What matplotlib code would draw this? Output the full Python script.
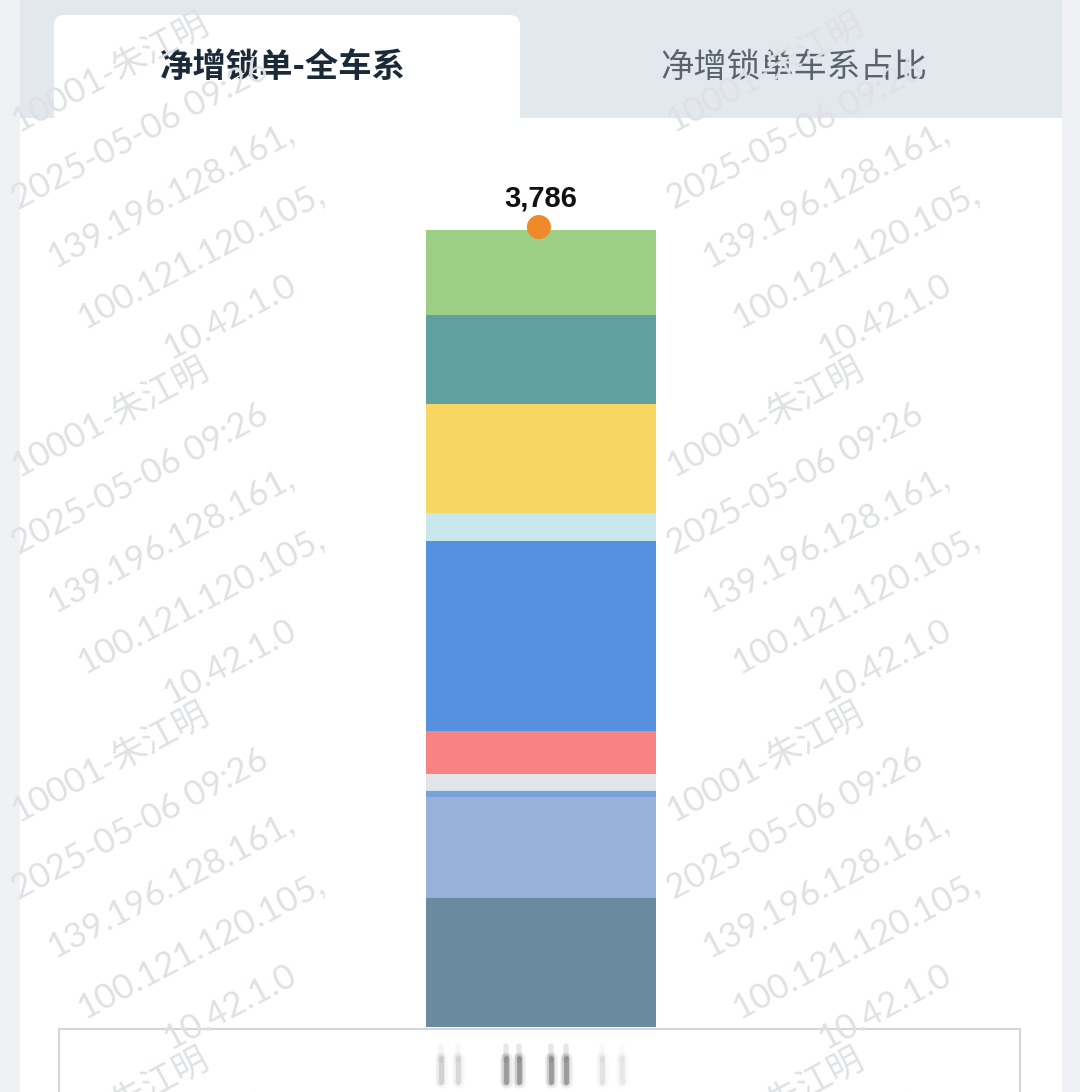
import numpy as np
import matplotlib
matplotlib.use("Agg")
import matplotlib.pyplot as plt
from matplotlib.patches import Rectangle, FancyBboxPatch

# stacked segments, bottom -> top (net locked orders per car series)
seg_values = [613, 480, 28, 10, 71, 204, 903, 133, 518, 423, 403]
seg_colors = ['#6a8aa0', '#97b1da', '#7b9fd8', '#cfe8ef', '#e2e6ea', '#f78383',
              '#5690e0', '#c9e8ee', '#f7d662', '#5fa19f', '#9ccf84']
total_label = '3,786'
tab_labels = ['净增锁单-全车系', '净增锁单车系占比']
wm_lines = ['10001-朱江明', '2025-05-06 09:26', '139.196.128.161,',
            '100.121.120.105,', '10.42.1.0']

W, H = 1080, 1092
fig = plt.figure(figsize=(W / 100, H / 100), dpi=100)
fig.patch.set_facecolor('#eff1f4')

# background / page chrome in pixel coords
bg = fig.add_axes([0, 0, 1, 1])
bg.set_xlim(0, W)
bg.set_ylim(H, 0)
bg.axis('off')
bg.add_patch(Rectangle((20, 0), 1042, 118, facecolor='#e3e7ee', edgecolor='none', zorder=0))
bg.add_patch(Rectangle((20, 118), 1042, H - 118, facecolor='white', edgecolor='none', zorder=0))
bg.add_patch(FancyBboxPatch((54, 15), 466, 120, boxstyle='round,pad=0,rounding_size=10',
                            facecolor='white', edgecolor='none', zorder=0.5))
bg.text(283, 67, tab_labels[0], ha='center', va='center', fontsize=24, fontweight='bold',
        color='#1b2a38', family=['Noto Sans CJK SC', 'DejaVu Sans'], zorder=1)
bg.text(794, 67, tab_labels[1], ha='center', va='center', fontsize=24, fontweight='medium',
        color='#59636e', family=['Noto Sans CJK SC', 'DejaVu Sans'], zorder=1)

# bottom axis box
bg.plot([59, 1020], [1029, 1029], color='#d4d7da', lw=1.5, zorder=1)
bg.plot([59, 59], [1029, H], color='#d4d7da', lw=1.5, zorder=1)
bg.plot([1020, 1020], [1029, H], color='#d4d7da', lw=1.5, zorder=1)
# blurred category label (soft strokes)
for x, a in zip([441, 458, 506, 519, 551, 566, 602, 622], [0.22, 0.18, 0.55, 0.55, 0.55, 0.55, 0.14, 0.1]):
    for lw, f in [(9, 0.15), (6, 0.3), (3.5, 0.6)]:
        bg.plot([x, x], [1058, 1082], color='#333333', lw=lw, alpha=a * f,
                solid_capstyle='round', zorder=1)
    bg.plot([x, x], [1046, 1060], color='#555555', lw=4, alpha=a * 0.25,
            solid_capstyle='round', zorder=1)

# watermarks
ang = 28
for col_x in [170, 825]:
    for cy in [195, 540, 885, 1230]:
        for i, line in enumerate(wm_lines):
            x = col_x + (i - 2) * 30
            y = cy + (i - 2) * 61
            if y > H + 80:
                continue
            bg.text(x, y, line, rotation=ang, rotation_mode='anchor', ha='center', va='center',
                    fontsize=25, color='#dfe1e4',
                    family=['Lato', 'Noto Sans CJK SC'], zorder=2)

# chart axes: bar spans px 427-657, baseline at y=1027, 3786 at y=230
ax_left, ax_right = 20, 1062
ax_bottom, ax_top = 1027, 150
ax = fig.add_axes([ax_left / W, (H - ax_bottom) / H, (ax_right - ax_left) / W, (ax_bottom - ax_top) / H])
ax.set_facecolor('none')
total = sum(seg_values)
ax.set_ylim(0, total * (ax_bottom - ax_top) / (ax_bottom - 230))
ax.set_xlim(-0.5, 0.5)
ax.axis('off')

bottom = 0
for v, c in zip(seg_values, seg_colors):
    ax.bar(0, v, width=230 / 1042, bottom=bottom, color=c, edgecolor='none', zorder=3)
    bottom += v

ax.scatter([-0.002], [total + 14], s=300, color='#ef8a2a', edgecolors='none', zorder=5)
ax.annotate(total_label, (0, total), xytext=(0, 23), textcoords='offset points',
            ha='center', va='center', fontsize=21, fontweight='bold', color='#111111',
            family='Liberation Sans', zorder=6)

fig.savefig('out.png', dpi=100)
